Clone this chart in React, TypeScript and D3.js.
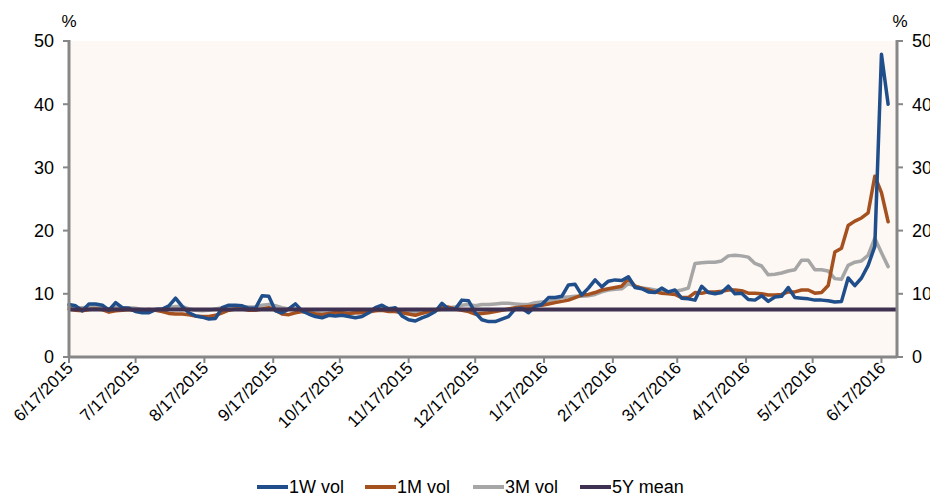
import React from 'react';
import * as d3 from 'd3';

// sampled every 3 calendar days from 6/17/2015
const dates = d3.timeDay.range(new Date(2015, 5, 17), new Date(2016, 5, 21), 3);

const oneWeekVol = [
  8.3, 8.1, 7.3, 8.4, 8.4, 8.2, 7.4, 8.6, 7.8, 7.7,
  7.2, 7.0, 7.0, 7.5, 7.6, 8.1, 9.3, 8.0, 7.0, 6.5,
  6.3, 6.0, 6.1, 7.8, 8.2, 8.2, 8.1, 7.7, 7.7, 9.7,
  9.6, 7.3, 7.0, 7.6, 8.4, 7.3, 6.8, 6.4, 6.2, 6.6,
  6.5, 6.6, 6.4, 6.2, 6.4, 7.0, 7.8, 8.2, 7.6, 7.8,
  6.5, 5.9, 5.7, 6.2, 6.6, 7.2, 8.5, 7.6, 7.6, 9.0,
  8.9, 7.0, 5.9, 5.6, 5.6, 6.0, 6.4, 7.6, 7.7, 7.0,
  8.0, 8.3, 9.4, 9.4, 9.6, 11.4, 11.5, 9.8, 10.9, 12.2,
  11.1, 12.0, 12.2, 12.1, 12.7, 11.0, 10.8, 10.3, 10.2, 10.9,
  10.3, 10.6, 9.3, 9.2, 9.0, 11.2, 10.2, 10.0, 10.2, 11.2,
  10.0, 10.1, 9.1, 9.0, 9.7, 8.8, 9.5, 9.6, 11.0, 9.4,
  9.3, 9.2, 9.0, 9.0, 8.9, 8.7, 8.8, 12.5, 11.3, 12.5,
  14.5, 17.5, 47.9, 40.0,
];

const oneMonthVol = [
  7.6, 7.4, 7.3, 7.5, 7.6, 7.5, 7.1, 7.3, 7.4, 7.5,
  7.3, 7.4, 7.5, 7.4, 7.2, 6.9, 6.8, 6.8, 6.7, 6.5,
  6.4, 6.4, 6.6, 7.0, 7.4, 7.6, 7.6, 7.4, 7.4, 7.6,
  7.8, 7.4, 6.8, 6.7, 7.0, 7.2, 7.0, 6.8, 6.7, 6.9,
  7.0, 7.0, 6.9, 7.0, 7.0, 7.1, 7.3, 7.4, 7.2, 7.2,
  7.0, 6.8, 6.6, 6.9, 7.2, 7.4, 7.9, 7.9, 7.6, 7.4,
  7.2, 6.8, 6.9, 7.0, 7.2, 7.4, 7.6, 7.8, 7.9, 8.0,
  8.1, 8.2, 8.4, 8.6, 8.8, 9.0, 9.4, 9.8, 9.9, 10.2,
  10.6, 10.8, 11.0, 11.2, 12.4, 11.2, 10.9, 10.6, 10.3, 10.1,
  10.0, 9.9, 9.4, 9.4, 10.2, 10.1, 10.3, 10.3, 10.4, 10.6,
  10.6, 10.5, 10.1, 10.1, 10.0, 9.8, 9.8, 9.9, 10.3, 10.3,
  10.6, 10.6, 10.1, 10.2, 11.3, 16.6, 17.2, 20.8, 21.5, 22.0,
  22.8, 28.6, 26.0, 21.4,
];

const threeMonthVol = [
  8.0, 7.8, 7.8, 7.9, 8.0, 7.8, 7.6, 7.9, 7.8, 7.8,
  7.7, 7.5, 7.4, 7.5, 7.6, 7.8, 8.0, 8.0, 7.6, 7.4,
  7.3, 7.4, 7.6, 7.8, 7.9, 8.0, 8.0, 7.9, 7.9, 8.2,
  8.3, 8.1, 7.8, 7.6, 7.6, 7.4, 7.2, 7.0, 6.9, 6.9,
  7.0, 6.9, 6.9, 7.0, 7.1, 7.2, 7.6, 7.8, 7.7, 7.6,
  7.3, 7.1, 7.0, 7.0, 7.1, 7.3, 7.6, 7.8, 7.9, 8.2,
  8.3, 8.1, 8.3, 8.3, 8.4, 8.5, 8.5, 8.4, 8.3, 8.3,
  8.6, 8.7, 8.8, 9.1, 9.4, 9.5, 9.6, 9.6, 9.7, 9.9,
  10.3, 10.6, 10.7, 10.8, 11.6, 11.2, 10.9, 10.8, 10.6, 10.4,
  10.3, 10.4, 10.6, 10.9, 14.8, 14.9, 15.0, 15.0, 15.2, 16.0,
  16.1, 16.0, 15.8, 14.8, 14.4, 13.0, 13.1, 13.3, 13.6, 13.8,
  15.3, 15.3, 13.8, 13.8, 13.6, 12.4, 12.3, 14.5, 15.0, 15.2,
  16.1, 18.8, 16.5, 14.3,
];

const fiveYearMean = 7.5;

const tickLabels = [
  '6/17/2015', '7/17/2015', '8/17/2015', '9/17/2015', '10/17/2015', '11/17/2015',
  '12/17/2015', '1/17/2016', '2/17/2016', '3/17/2016', '4/17/2016', '5/17/2016', '6/17/2016',
];

const series = [
  { name: '3M vol', values: threeMonthVol, color: '#a6a6a6' },
  { name: '1M vol', values: oneMonthVol, color: '#a5501f' },
  { name: '1W vol', values: oneWeekVol, color: '#1f4e8a' },
];

const legendItems = [
  { name: '1W vol', color: '#1f4e8a', x: 257 },
  { name: '1M vol', color: '#a5501f', x: 365 },
  { name: '3M vol', color: '#a6a6a6', x: 473 },
  { name: '5Y mean', color: '#3f3151', x: 580 },
];

export default function App() {
  const width = 930;
  const height = 498;
  const left = 69;
  const right = 897;
  const top = 41;
  const bottom = 357;

  const parse = d3.timeParse('%m/%d/%Y');
  const tickDates = tickLabels.map(s => parse(s) as Date);

  const x = d3.scaleTime()
    .domain([new Date(2015, 5, 17), new Date(2016, 5, 24)])
    .range([left, right]);
  const y = d3.scaleLinear().domain([0, 50]).range([bottom, top]);

  const line = d3.line<number>()
    .x((_, i) => x(dates[i]))
    .y(d => y(d));

  const yTicks = y.ticks(5);
  const font = '"Liberation Sans", Arial, sans-serif';
  const axisColor = '#878787';

  return (
    <svg width={width} height={height} style={{ position: 'absolute', left: 0, top: 0 }} fontFamily={font}>
      <rect x={0} y={0} width={width} height={height} fill="#ffffff" />
      <rect x={left} y={top} width={right - left} height={bottom - top} fill="#fdf8f4" />

      {/* series */}
      {series.map(s => (
        <path key={s.name} d={line(s.values) ?? ''} fill="none" stroke={s.color}
          strokeWidth={3.5} strokeLinejoin="round" strokeLinecap="round" />
      ))}
      <line x1={x(x.domain()[0])} x2={x(x.domain()[1])} y1={y(fiveYearMean)} y2={y(fiveYearMean)}
        stroke="#3f3151" strokeWidth={4} />

      {/* left axis */}
      <line x1={left} x2={left} y1={top - 1} y2={bottom + 1} stroke={axisColor} strokeWidth={3} />
      {yTicks.map(t => (
        <g key={'l' + t}>
          <line x1={left - 6} x2={left} y1={y(t)} y2={y(t)} stroke={axisColor} strokeWidth={2} />
          <text x={left - 15} y={y(t)} dy="0.35em" textAnchor="end" fontSize={18} fill="#000">{t}</text>
        </g>
      ))}
      <text x={left} y={27} textAnchor="middle" fontSize={17} fill="#000">%</text>

      {/* right axis */}
      <line x1={right} x2={right} y1={top - 1} y2={bottom + 1} stroke={axisColor} strokeWidth={3} />
      {yTicks.map(t => (
        <g key={'r' + t}>
          <line x1={right} x2={right + 6} y1={y(t)} y2={y(t)} stroke={axisColor} strokeWidth={2} />
          <text x={right + 15} y={y(t)} dy="0.35em" textAnchor="start" fontSize={18} fill="#000">{t}</text>
        </g>
      ))}
      <text x={right + 3} y={27} textAnchor="middle" fontSize={17} fill="#000">%</text>

      {/* bottom axis */}
      <line x1={left} x2={right} y1={bottom} y2={bottom} stroke={axisColor} strokeWidth={3} />
      {tickDates.map((d, i) => (
        <g key={tickLabels[i]}>
          <line x1={x(d)} x2={x(d)} y1={bottom} y2={bottom + 6} stroke={axisColor} strokeWidth={2} />
          <text transform={`translate(${x(d) + 5},${bottom + 12}) rotate(-45)`} textAnchor="end"
            fontSize={17} fill="#000">{tickLabels[i]}</text>
        </g>
      ))}

      {/* legend */}
      {legendItems.map(item => (
        <g key={item.name}>
          <line x1={item.x} x2={item.x + 31} y1={487} y2={487} stroke={item.color} strokeWidth={4} />
          <text x={item.x + 32} y={487} dy="0.35em" fontSize={18} fill="#000">{item.name}</text>
        </g>
      ))}
    </svg>
  );
}
